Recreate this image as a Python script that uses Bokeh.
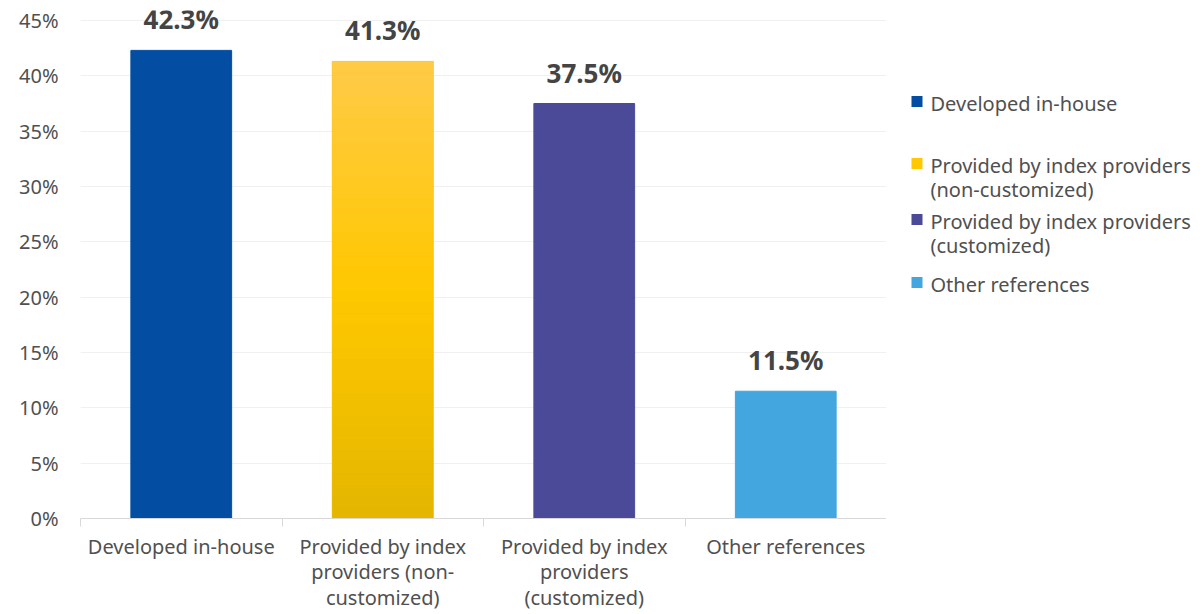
import numpy as np
from bokeh.plotting import figure
from bokeh.models import Range1d, FixedTicker, LabelSet, ColumnDataSource, PrintfTickFormatter
from bokeh.layouts import row
from bokeh.embed import file_html
from bokeh.resources import INLINE
from bokeh.core.properties import value

# ---- data ----
categories = ["Developed in-house",
              "Provided by index providers (non-customized)",
              "Provided by index providers (customized)",
              "Other references"]
axis_labels = ["Developed in-house",
               "Provided by index\nproviders (non-\ncustomized)",
               "Provided by index\nproviders\n(customized)",
               "Other references"]
legend_labels = ["Developed in-house",
                 "Provided by index providers\n(non-customized)",
                 "Provided by index providers\n(customized)",
                 "Other references"]
shares = [42.3, 41.3, 37.5, 11.5]
y_ticks = [0, 5, 10, 15, 20, 25, 30, 35, 40, 45]
colors = ["#034EA2", "#FFC800", "#4B4A98", "#44A6DE"]

FONT = "Noto Sans"
TXT = "#505050"

# ---- layout (pixels) ----
H = 614
TOP, BOTTOM = 10, 96          # frame top border / bottom border
MAIN_W, LEFT = 886, 80
LEG_W = 314
FRAME_H = H - TOP - BOTTOM    # 508
Y_END = 45 * FRAME_H / 498.0  # 45% line sits ~10px below frame top

n = len(categories)
xs = np.arange(n) + 0.5

p = figure(width=MAIN_W, height=H, x_range=Range1d(0, n), y_range=Range1d(0, Y_END),
           output_backend="svg", toolbar_location=None,
           min_border_left=LEFT, min_border_right=0, min_border_top=TOP,
           min_border_bottom=BOTTOM)
p.outline_line_color = None

src = ColumnDataSource(dict(x=xs, top=shares, color=colors,
                            lab=[f"{v:.1f}%" for v in shares]))
p.vbar(x="x", top="top", width=0.5, color="color", source=src)

# gradient for the yellow bar
top_c = np.array([255, 202, 72])
mid_c = np.array([255, 200, 0])
bot_c = np.array([228, 182, 0])
nseg = 40
edges = np.linspace(0, shares[1], nseg + 1)
seg_cols = []
for k in range(nseg):
    t = (k + 0.5) / nseg
    if t < 0.5:
        c = bot_c + (mid_c - bot_c) * (t / 0.5)
    else:
        c = mid_c + (top_c - mid_c) * ((t - 0.5) / 0.5)
    seg_cols.append("#%02x%02x%02x" % tuple(int(round(v)) for v in c))
p.vbar(x=[xs[1]] * nseg, bottom=edges[:-1], top=edges[1:], width=0.5,
       fill_color=seg_cols, line_color=seg_cols, line_width=0.6)

labels = LabelSet(x="x", y="top", text="lab", source=src, text_align="center",
                  text_baseline="alphabetic", y_offset=21,
                  text_font=value(FONT), text_font_size="26px", text_font_style="bold",
                  text_color="#444444")
p.add_layout(labels)

# y axis
p.yaxis.ticker = FixedTicker(ticks=y_ticks)
p.yaxis.formatter = PrintfTickFormatter(format="%d%%")
p.yaxis.axis_line_color = None
p.yaxis.major_tick_line_color = None
p.yaxis.minor_tick_line_color = None
p.yaxis.major_label_standoff = 16
p.yaxis.major_label_text_font = FONT
p.yaxis.major_label_text_font_size = "20px"
p.yaxis.major_label_text_color = TXT

# x axis
p.xaxis.ticker = FixedTicker(ticks=list(xs), minor_ticks=list(range(n + 1)))
p.xaxis.major_label_overrides = {float(x): lab for x, lab in zip(xs, axis_labels)}
p.xaxis.axis_line_color = "#D9D9D9"
p.xaxis.major_tick_line_color = None
p.xaxis.minor_tick_line_color = "#D9D9D9"
p.xaxis.minor_tick_in = 0
p.xaxis.minor_tick_out = 8
p.xaxis.major_label_standoff = 6
p.xaxis.major_label_text_font = FONT
p.xaxis.major_label_text_font_size = "20px"
p.xaxis.major_label_text_color = TXT
p.xaxis.major_label_text_line_height = 0.96

p.xgrid.grid_line_color = None
p.ygrid.ticker = FixedTicker(ticks=y_ticks)
p.ygrid.grid_line_color = "#F0F0F0"

# legend panel (its frame is aligned with the main frame by the row layout)
lg = figure(width=LEG_W, height=H, x_range=Range1d(0, LEG_W),
            y_range=Range1d(H - BOTTOM, TOP),
            output_backend="svg", toolbar_location=None,
            min_border_left=0, min_border_right=0, min_border_top=TOP,
            min_border_bottom=BOTTOM)
lg.axis.visible = False
lg.grid.visible = False
lg.outline_line_color = None
leg_y = [101, 163, 219, 282]
lg.rect(x=[30.5] * n, y=leg_y, width=11, height=11, fill_color=colors, line_color=None)
lg.text(x=[44] * n, y=[v - 12 for v in leg_y], text=legend_labels, text_baseline="top",
        text_font=value(FONT), text_font_size="20px", text_color=TXT, text_line_height=0.9)

layout = row(p, lg)
open("out.html", "w").write(file_html(layout, INLINE))
